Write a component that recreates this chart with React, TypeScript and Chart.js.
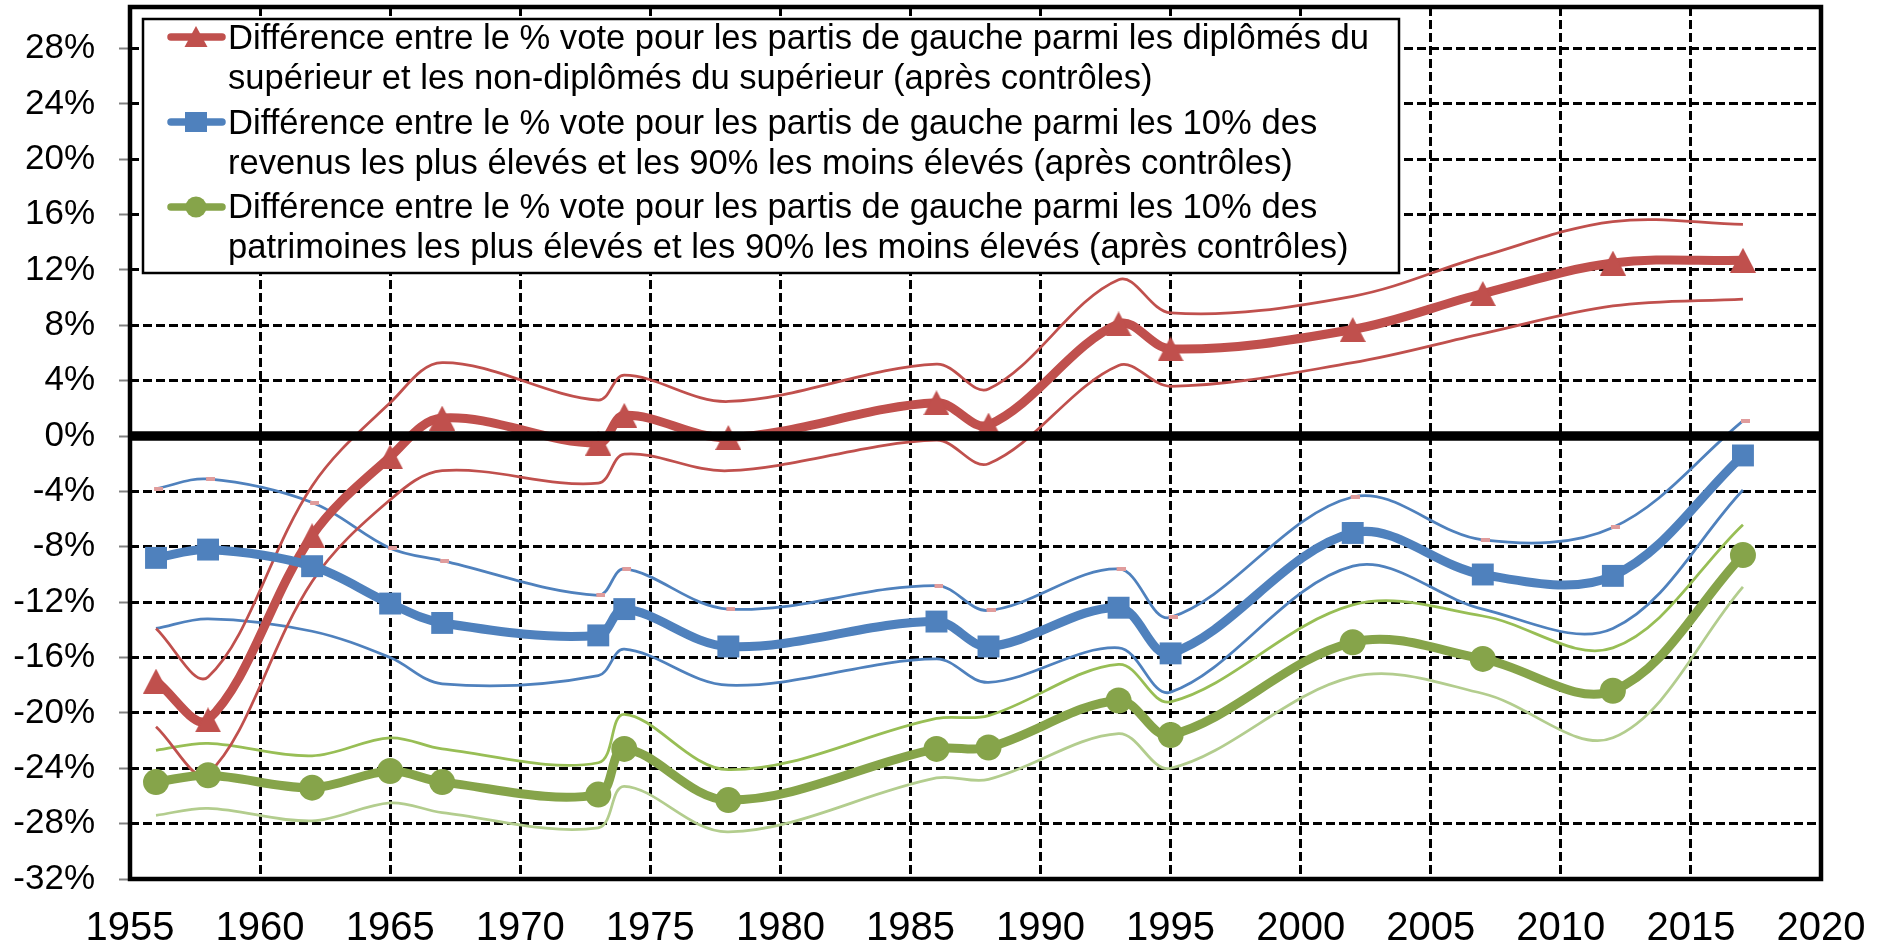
import React, { useEffect, useRef } from 'react';
import { Chart, registerables } from 'chart.js';

Chart.register(...registerables);

// ---- Data (values in %) ----
const years = [1956, 1958, 1962, 1965, 1967, 1973, 1974, 1978, 1986, 1988, 1993, 1995, 2002, 2007, 2012, 2017];

const diplomes = [-17.7, -20.5, -7.2, -1.5, 1.3, -0.5, 1.5, -0.1, 2.4, 0.8, 8.1, 6.3, 7.7, 10.3, 12.5, 12.7];
const diplomesHaut = [-13.9, -17.4, -3.6, 2.4, 5.3, 2.6, 4.4, 2.5, 5.2, 3.4, 11.3, 8.9, 10.1, 13.0, 15.5, 15.3];
const diplomesBas = [-21.0, -24.4, -10.5, -4.6, -2.5, -3.4, -1.3, -2.5, -0.3, -2.0, 5.1, 3.6, 5.3, 7.4, 9.4, 9.9];

const revenus = [-8.8, -8.2, -9.4, -12.1, -13.5, -14.4, -12.5, -15.2, -13.4, -15.2, -12.4, -15.7, -7.0, -10.0, -10.1, -1.4];
const revenusHaut = [-3.8, -3.1, -4.8, -8.1, -9.0, -11.5, -9.6, -12.5, -10.8, -12.6, -9.6, -13.1, -4.4, -7.5, -6.6, 1.1];
const revenusBas = [-13.9, -13.2, -14.1, -16.0, -17.9, -17.3, -15.4, -18.0, -16.1, -17.8, -15.3, -18.5, -9.4, -12.5, -13.9, -3.9];

const patrimoine = [-25.0, -24.5, -25.4, -24.2, -25.0, -25.9, -22.6, -26.3, -22.6, -22.5, -19.1, -21.6, -14.9, -16.1, -18.4, -8.6];
const patrimoineHaut = [-22.7, -22.2, -23.1, -21.8, -22.6, -23.6, -20.1, -24.1, -20.4, -20.2, -16.5, -19.2, -12.2, -13.0, -15.3, -6.4];
const patrimoineBas = [-27.4, -26.9, -27.8, -26.5, -27.2, -28.3, -25.3, -28.6, -24.7, -24.8, -21.5, -24.0, -17.4, -18.6, -21.8, -10.9];

const legendLabels = [
  ['Différence entre le % vote pour les partis de gauche parmi les diplômés du',
   'supérieur et les non-diplômés du supérieur (après contrôles)'],
  ['Différence entre le % vote pour les partis de gauche parmi les 10% des',
   'revenus les plus élevés et les 90% les moins élevés (après contrôles)'],
  ['Différence entre le % vote pour les partis de gauche parmi les 10% des',
   'patrimoines les plus élevés et les 90% les moins élevés (après contrôles)'],
];

const xMin = 1955;
const xMax = 2020;
const xStep = 5;
const yMin = -32;
const yMax = 31;
const yStep = 4;

// ---- Styles ----
const FONT = '"Liberation Sans", Arial, Helvetica, sans-serif';
const RED = '#C0504D';
const BLUE = '#4F81BD';
const GREEN = '#86A44A';
const GREEN_HI = '#98BE55';
const GREEN_LO = '#B3CD8E';
const PINK = '#E09C9C';

function makeTriangle(w: number, h: number, color: string) {
  const c = document.createElement('canvas');
  c.width = w;
  c.height = h;
  const g = c.getContext('2d')!;
  g.fillStyle = color;
  g.beginPath();
  g.moveTo(w / 2, 0);
  g.lineTo(w, h);
  g.lineTo(0, h);
  g.closePath();
  g.fill();
  return c;
}

function makePinkMark() {
  const c = document.createElement('canvas');
  c.width = 14;
  c.height = 4;
  const g = c.getContext('2d')!;
  g.fillStyle = PINK;
  g.fillRect(5, 0, 9, 4);
  return c;
}

const toPts = (vals: number[]) => years.map((x, i) => ({ x, y: vals[i] }));

export default function App() {
  const ref = useRef<HTMLCanvasElement | null>(null);

  useEffect(() => {
    if (!ref.current) return;
    const tri = makeTriangle(26, 25, RED);
    const pink = makePinkMark();

    const thin = (data: number[], color: string, extra: any = {}) => ({
      data: toPts(data),
      borderColor: color,
      backgroundColor: color,
      borderWidth: 2.75,
      pointRadius: 0,
      tension: 0.35,
      fill: false,
      order: 10,
      ...extra,
    });

    const frameAndZero = {
      id: 'frameAndZero',
      afterDatasetsDraw(chart: any) {
        const { ctx, chartArea: a, scales } = chart;
        const y0 = scales.y.getPixelForValue(0);
        ctx.save();
        ctx.strokeStyle = '#000';
        ctx.lineWidth = 9.5;
        ctx.beginPath();
        ctx.moveTo(a.left, y0);
        ctx.lineTo(a.right, y0);
        ctx.stroke();
        ctx.lineWidth = 4.5;
        ctx.strokeRect(a.left, a.top, a.right - a.left, a.bottom - a.top);
        ctx.restore();
      },
    };

    const legendBox = {
      id: 'legendBox',
      afterDraw(chart: any) {
        const ctx = chart.ctx;
        const left = 143, top = 19, right = 1399, bottom = 273;
        ctx.save();
        ctx.fillStyle = '#fff';
        ctx.fillRect(left, top, right - left, bottom - top);
        ctx.strokeStyle = '#000';
        ctx.lineWidth = 2.5;
        ctx.strokeRect(left, top, right - left, bottom - top);
        const colors = [RED, BLUE, GREEN];
        for (let i = 0; i < 3; i++) {
          const cy = 37 + 85 * i;
          ctx.strokeStyle = colors[i];
          ctx.fillStyle = colors[i];
          ctx.lineWidth = 7.5;
          ctx.lineCap = 'round';
          ctx.beginPath();
          ctx.moveTo(171, cy);
          ctx.lineTo(222, cy);
          ctx.stroke();
          const mx = 196;
          if (i === 0) {
            ctx.beginPath();
            ctx.moveTo(mx, cy - 11);
            ctx.lineTo(mx + 11.5, cy + 10);
            ctx.lineTo(mx - 11.5, cy + 10);
            ctx.closePath();
            ctx.fill();
          } else if (i === 1) {
            ctx.fillRect(mx - 11, cy - 10, 22, 20);
          } else {
            ctx.beginPath();
            ctx.arc(mx, cy, 10.5, 0, Math.PI * 2);
            ctx.fill();
          }
          ctx.fillStyle = '#000';
          ctx.font = '34.6px ' + FONT;
          ctx.textAlign = 'left';
          ctx.textBaseline = 'alphabetic';
          ctx.fillText(legendLabels[i][0], 228, 49 + 84.5 * i);
          ctx.fillText(legendLabels[i][1], 228, 89 + 84.5 * i);
        }
        ctx.restore();
      },
    };

    const chart = new Chart(ref.current, {
      type: 'line',
      data: {
        datasets: [
          {
            label: legendLabels[2].join(' '),
            data: toPts(patrimoine),
            borderColor: GREEN,
            backgroundColor: GREEN,
            borderWidth: 9,
            borderCapStyle: 'round',
            borderJoinStyle: 'round',
            pointStyle: 'circle',
            pointRadius: 13,
            pointBorderWidth: 0,
            pointBackgroundColor: GREEN,
            tension: 0.35,
            fill: false,
            order: 1,
          },
          {
            label: legendLabels[1].join(' '),
            data: toPts(revenus),
            borderColor: BLUE,
            backgroundColor: BLUE,
            borderWidth: 9,
            borderCapStyle: 'round',
            borderJoinStyle: 'round',
            pointStyle: 'rect',
            pointRadius: 15.5,
            pointBorderWidth: 0,
            pointBackgroundColor: BLUE,
            tension: 0.35,
            fill: false,
            order: 2,
          },
          {
            label: legendLabels[0].join(' '),
            data: toPts(diplomes),
            borderColor: RED,
            backgroundColor: RED,
            borderWidth: 9,
            borderCapStyle: 'round',
            borderJoinStyle: 'round',
            pointStyle: tri,
            pointRadius: 13,
            pointBorderWidth: 0,
            tension: 0.35,
            fill: false,
            order: 3,
          },
          thin(diplomesHaut, RED),
          thin(diplomesBas, RED),
          thin(revenusHaut, BLUE, { pointStyle: pink, pointRadius: 5, pointBorderWidth: 0 }),
          thin(revenusBas, BLUE),
          thin(patrimoineHaut, GREEN_HI),
          thin(patrimoineBas, GREEN_LO),
        ],
      },
      options: {
        responsive: false,
        animation: false,
        devicePixelRatio: 1,
        events: [],
        layout: { autoPadding: false, padding: { left: 0, right: 65, top: 7, bottom: 0 } },
        plugins: { legend: { display: false }, tooltip: { enabled: false }, title: { display: false } },
        scales: {
          x: {
            type: 'linear',
            min: xMin,
            max: xMax,
            bounds: 'data',
            afterFit: (s: any) => {
              s.height = 72;
              s.paddingLeft = 0; s.paddingRight = 0; s.paddingTop = 0; s.paddingBottom = 0;
            },
            ticks: {
              stepSize: xStep,
              autoSkip: false,
              maxRotation: 0,
              padding: 26,
              color: '#000',
              font: { family: FONT, size: 40 },
              callback: (v: any) => String(v),
            },
            grid: { color: '#000', lineWidth: 3, drawTicks: false },
            border: { display: false, dash: [9, 4] },
          },
          y: {
            type: 'linear',
            min: yMin,
            max: yMax,
            bounds: 'data',
            afterBuildTicks: (s: any) => {
              s.ticks = s.ticks.filter((t: any) => Math.abs(t.value % yStep) < 1e-9);
            },
            afterFit: (s: any) => {
              s.width = 130;
              s.paddingLeft = 0; s.paddingRight = 0; s.paddingTop = 0; s.paddingBottom = 0;
            },
            ticks: {
              stepSize: yStep,
              includeBounds: false,
              padding: 24,
              color: '#000',
              font: { family: FONT, size: 35 },
              callback: (v: any) => v + '%',
            },
            grid: { color: '#000', lineWidth: 3, drawTicks: true, tickLength: 11, tickColor: '#808080', tickWidth: 2 },
            border: { display: false, dash: [9, 4] },
          },
        },
      } as any,
      plugins: [frameAndZero, legendBox],
    });
    return () => chart.destroy();
  }, []);

  return (
    <div style={{ position: 'absolute', left: 0, top: 0, width: 1886, height: 951, background: '#fff' }}>
      <canvas ref={ref} width={1886} height={951} style={{ width: 1886, height: 951, display: 'block' }} />
    </div>
  );
}
